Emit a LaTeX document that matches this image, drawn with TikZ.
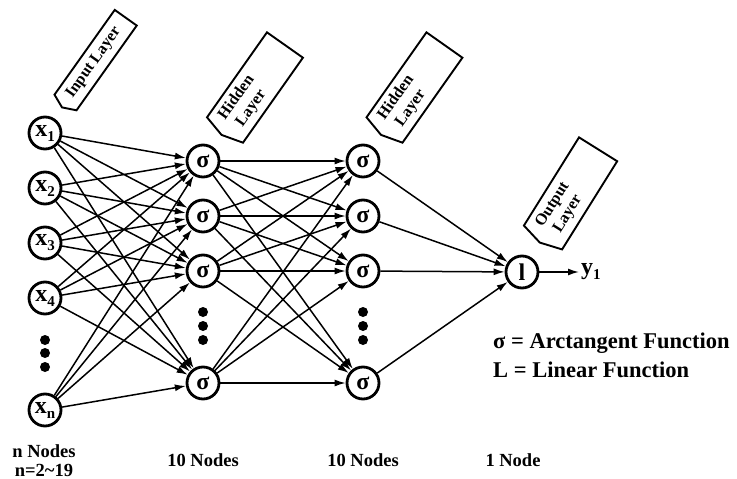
\documentclass[tikz,border=0pt]{standalone}
\usepackage{fontspec}
\setmainfont{Liberation Serif}
\usetikzlibrary{arrows.meta}
\newcommand\lsub[1]{\raisebox{-5pt}{\fontsize{15}{15}\selectfont #1}}
\newcommand\layertag[7]{%
  \begin{scope}[shift={(#1,-#2)},rotate=#3]
    \draw[tagshape] (0,#4/2) -- (104,#4/2) -- (104,-#4/2) -- (0,-#4/2) -- (-6,0) -- cycle;
    \node[tagtext,rotate=#3] (#7) at (#5,0) {#6};
  \end{scope}}
\begin{document}
\begin{tikzpicture}[x=1pt,y=1pt,
  neuron/.style={circle,draw,line width=2.8pt,minimum size=32pt,inner sep=0pt,
    font=\fontsize{24}{24}\selectfont\bfseries},
  conn/.style={line width=1.5pt,-{Latex[length=11pt,width=7pt]}},
  dotnode/.style={circle,fill,inner sep=0pt,minimum size=10pt},
  lbl/.style={font=\fontsize{18.5}{20}\selectfont\bfseries,inner sep=1pt},
  legend/.style={font=\fontsize{22.5}{24}\selectfont\bfseries,anchor=west,inner sep=0pt},
  tagshape/.style={draw,line width=1.9pt,line join=miter,fill=white},
  tagtext/.style={font=\fontsize{16}{18}\selectfont\bfseries,align=center,inner sep=0pt}]
\useasboundingbox (0,0) rectangle (737,-479);

% input layer
\node[neuron] (x1) at (45,-133) {x\lsub{1}};
\node[neuron] (x2) at (45,-188) {x\lsub{2}};
\node[neuron] (x3) at (45,-243) {x\lsub{3}};
\node[neuron] (x4) at (45,-298) {x\lsub{4}};
\node[neuron] (xn) at (45,-410) {x\lsub{n}};
\node[dotnode] (xd1) at (45,-340) {};
\node[dotnode] (xd2) at (45,-353) {};
\node[dotnode] (xd3) at (45,-367) {};

% hidden layer 1
\node[neuron] (h1) at (203,-161) {σ};
\node[neuron] (h2) at (203,-216) {σ};
\node[neuron] (h3) at (203,-271) {σ};
\node[neuron] (h4) at (203,-383) {σ};
\node[dotnode] (hd1) at (203,-312) {};
\node[dotnode] (hd2) at (203,-326) {};
\node[dotnode] (hd3) at (203,-340) {};

% hidden layer 2
\node[neuron] (g1) at (363,-161) {σ};
\node[neuron] (g2) at (363,-216) {σ};
\node[neuron] (g3) at (363,-271) {σ};
\node[neuron] (g4) at (363,-383) {σ};
\node[dotnode] (gd1) at (363,-312) {};
\node[dotnode] (gd2) at (363,-326) {};
\node[dotnode] (gd3) at (363,-340) {};

% output
\node[neuron] (out) at (522,-272) {l};
\node[anchor=west,inner sep=2pt,font=\fontsize{24}{24}\selectfont\bfseries] (y) at (579,-272) {y\lsub{1}};

% connectors
\foreach \i in {x1,x2,x3,x4,xn}
  \foreach \j in {h1,h2,h3,h4}
    \draw[conn] (\i) -- (\j);
\foreach \i in {h1,h2,h3,h4}
  \foreach \j in {g1,g2,g3,g4}
    \draw[conn] (\i) -- (\j);
\foreach \i in {g1,g2,g3,g4}
  \draw[conn] (\i) -- (out);
\draw[conn] (out) -- (y.west);

% layer tags
\layertag{65.5}{102.5}{54.6}{27}{49}{Input Layer}{tin}
\layertag{225}{130}{54.8}{44}{33}{Hidden\\Layer}{th1}
\layertag{384.5}{130}{54.8}{44}{33}{Hidden\\Layer}{th2}
\layertag{543}{237.5}{58}{45}{33}{Output\\Layer}{tout}

% legend
\node[legend] (leg1) at (493,-343) {σ = Arctangent Function};
\node[legend] (leg2) at (493,-370) {L = Linear Function};

% bottom labels
\node[lbl] (c1a) at (44,-451) {n Nodes};
\node[lbl] (c1b) at (44,-470) {n=2\textasciitilde19};
\node[lbl] (c2) at (203,-460) {10 Nodes};
\node[lbl] (c3) at (363,-460) {10 Nodes};
\node[lbl] (c4) at (513,-460) {1 Node};
\end{tikzpicture}
\end{document}
